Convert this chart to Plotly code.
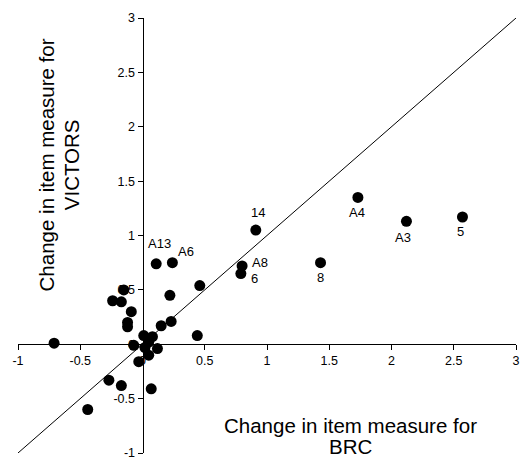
import plotly.graph_objects as go

# Change in item measure: BRC (x) versus VICTORS (y)
brc = [0.91, 0.11, 0.24, 0.80, 0.79, 1.43, 1.73, 2.12, 2.57,
       0.46, 0.22, 0.23, 0.15, -0.15, -0.24, -0.17, -0.09, -0.12, -0.12,
       0.44, -0.71, 0.01, 0.08, 0.05, 0.02, 0.12, 0.05, -0.07, -0.03,
       0.07, -0.27, -0.17, -0.44]
victors = [1.05, 0.74, 0.75, 0.72, 0.65, 0.75, 1.35, 1.13, 1.17,
           0.54, 0.45, 0.21, 0.17, 0.50, 0.40, 0.39, 0.30, 0.20, 0.16,
           0.08, 0.01, 0.08, 0.07, 0.02, -0.03, -0.04, -0.10, -0.01, -0.16,
           -0.41, -0.33, -0.38, -0.60]
item_labels = ["14", "A13", "A6", "A8", "6", "8", "A4", "A3", "5"]
# label offsets in pixels (dx, dy) relative to the marker
label_offsets = [(2, 18), (3, 20), (14, 11), (18, 3), (14, -5), (0, -15),
                 (-1, -15), (-3, -16), (-2, -14)]

# identity line y = x
identity = [-1, 3]

tick_vals = [-1, -0.5, 0, 0.5, 1, 1.5, 2, 2.5, 3]
tick_text = ["-1", "-0.5", "0", "0.5", "1", "1.5", "2", "2.5", "3"]

x_title = ["Change in item measure for", "BRC"]
y_title = ["Change in item measure for", "VICTORS"]

FONT = "Liberation Sans, Arial, sans-serif"
W, H = 520, 460
ML, MR, MT, MB = 18, 0, 18, 6

fig = go.Figure()
fig.add_trace(go.Scatter(x=identity, y=identity, mode="lines",
                         line=dict(color="black", width=1),
                         hoverinfo="skip", showlegend=False))
fig.add_trace(go.Scatter(x=brc, y=victors, mode="markers",
                         marker=dict(color="black", size=11),
                         showlegend=False))

for i, lab in enumerate(item_labels):
    dx, dy = label_offsets[i]
    fig.add_annotation(x=brc[i], y=victors[i], text=lab, showarrow=False,
                       xshift=dx, yshift=dy,
                       font=dict(family=FONT, size=13, color="black"))

axis_common = dict(range=[-1, 3], tickvals=tick_vals, ticktext=tick_text,
                   showgrid=False, zeroline=False, showline=True,
                   linecolor="black", linewidth=1, ticks="outside",
                   ticklen=5, tickcolor="black", tickwidth=1,
                   anchor="free", position=0.25,
                   ticklabeloverflow="allow",
                   tickfont=dict(family=FONT, size=12.5, color="black"))

fig.update_layout(
    width=W, height=H,
    margin=dict(l=ML, r=MR, t=MT, b=MB),
    plot_bgcolor="white", paper_bgcolor="white",
    xaxis=axis_common,
    yaxis=axis_common,
)


def px_to_paper(px, py):
    return ((px - ML) / (W - ML - MR), (H - MB - py) / (H - MT - MB))


title_font = dict(family=FONT, size=20.5, color="black")

# x-axis title, two centred lines below the plot
for text, py in zip(x_title, [426, 447]):
    xp, yp = px_to_paper(353, py)
    fig.add_annotation(xref="paper", yref="paper", x=xp, y=yp, text=text,
                       xanchor="center", yanchor="middle", showarrow=False,
                       font=title_font)

# y-axis title, two rotated lines left of the plot
for text, px in zip(y_title, [47, 72]):
    xp, yp = px_to_paper(px, 165)
    fig.add_annotation(xref="paper", yref="paper", x=xp, y=yp, text=text,
                       xanchor="center", yanchor="middle", textangle=-90,
                       showarrow=False, font=title_font)

fig.write_html("out.html")
